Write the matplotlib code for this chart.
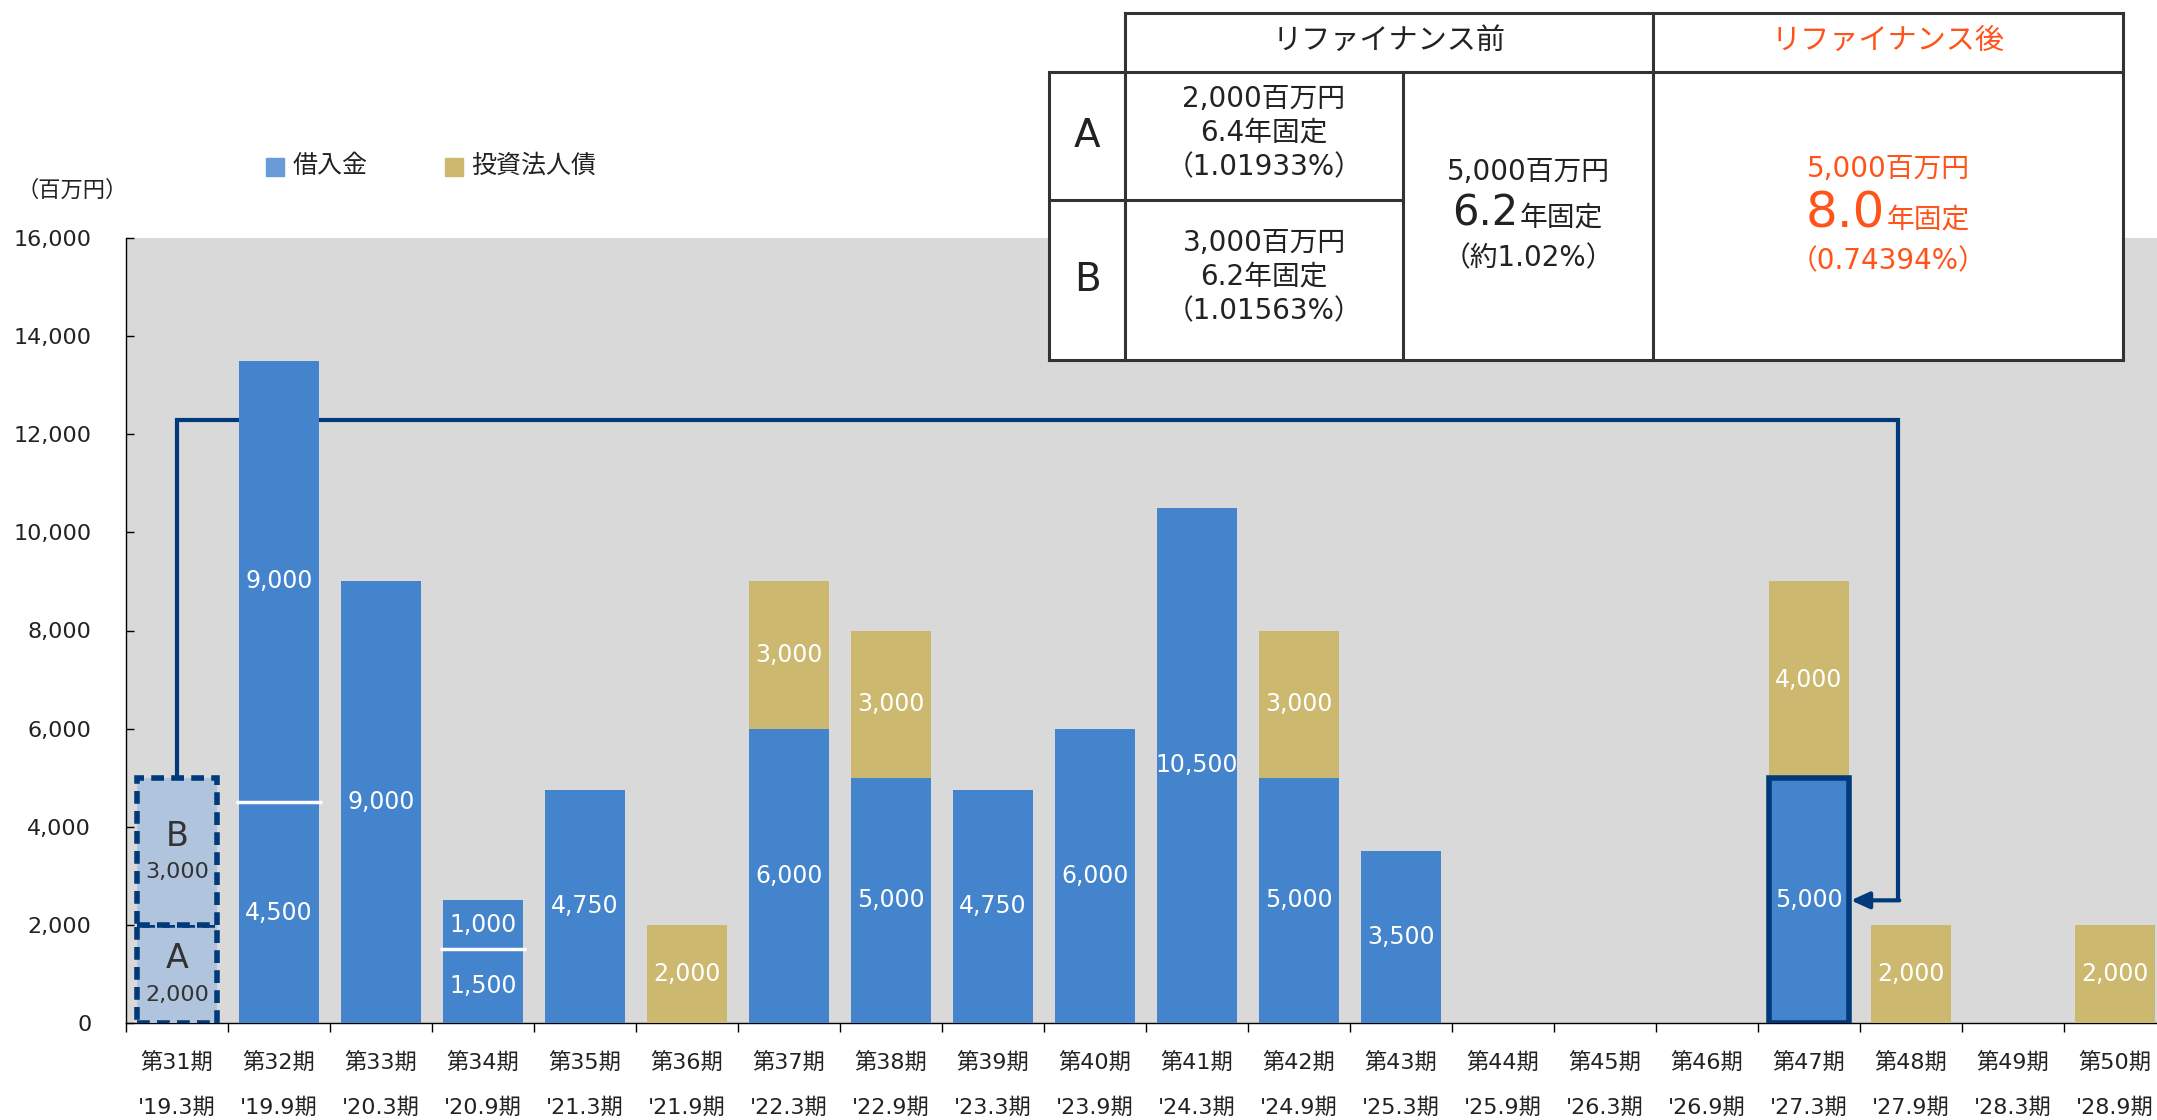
import numpy as np
import matplotlib
matplotlib.use("Agg")
import matplotlib.pyplot as plt
from matplotlib.patches import Rectangle
from matplotlib.offsetbox import TextArea, HPacker, AnnotationBbox
from matplotlib.transforms import blended_transform_factory

plt.rcParams["font.family"] = ["DejaVu Sans", "Noto Sans CJK JP"]

# 決算期ラベル
periods = ["第31期", "第32期", "第33期", "第34期", "第35期", "第36期", "第37期",
           "第38期", "第39期", "第40期", "第41期", "第42期", "第43期", "第44期",
           "第45期", "第46期", "第47期", "第48期", "第49期", "第50期"]
terms = ["'19.3期", "'19.9期", "'20.3期", "'20.9期", "'21.3期", "'21.9期", "'22.3期",
         "'22.9期", "'23.3期", "'23.9期", "'24.3期", "'24.9期", "'25.3期", "'25.9期",
         "'26.3期", "'26.9期", "'27.3期", "'27.9期", "'28.3期", "'28.9期"]

# 返済期限別の残高（百万円）
loans_lower = np.array([0, 4500, 9000, 1500, 4750, 0, 6000, 5000, 4750, 6000,
                        10500, 5000, 3500, 0, 0, 0, 5000, 0, 0, 0])
loans_upper = np.array([0, 9000, 0, 1000, 0, 0, 0, 0, 0, 0,
                        0, 0, 0, 0, 0, 0, 0, 0, 0, 0])
bonds = np.array([0, 0, 0, 0, 0, 2000, 3000, 3000, 0, 0,
                  0, 3000, 0, 0, 0, 0, 4000, 2000, 0, 2000])

# リファイナンス対象（第31期）と新規借入（第47期）
refi_period = 0
refi_names = ["A", "B"]
refi_amounts = [2000, 3000]
new_period = 16

# 表の文言
header_before = "リファイナンス前"
header_after = "リファイナンス後"
rows_before = [["2,000百万円", "6.4年固定", "（1.01933%）"],
               ["3,000百万円", "6.2年固定", "（1.01563%）"]]
total_before = ["5,000百万円", "6.2", "年固定", "（約1.02%）"]
total_after = ["5,000百万円", "8.0", "年固定", "（0.74394%）"]

yticks = [0, 2000, 4000, 6000, 8000, 10000, 12000, 14000, 16000]

BLUE = "#4384CD"
GOLD = "#CDB870"
NAVY = "#003A7A"
REFI_FILL = "#B0C4DE"
ORANGE = "#FF5319"
TEXT = "#222222"
LINE = "#333333"

W, H = 2157, 1120
fig = plt.figure(figsize=(W / 100, H / 100), dpi=100)

ax = fig.add_axes([126 / W, 1 - 1023 / H, 2040 / W, 785 / H])
ax.set_facecolor("#D9D9D9")
x = np.arange(len(periods))
bw = 0.78

ax.bar(x, loans_lower, width=bw, color=BLUE, zorder=3)
ax.bar(x, loans_upper, width=bw, bottom=loans_lower, color=BLUE, zorder=3)
bond_bottom = loans_lower + loans_upper
ax.bar(x, bonds, width=bw, bottom=bond_bottom, color=GOLD, zorder=3)

# 分割返済の境目
for i in x:
    if loans_upper[i] > 0:
        ax.hlines(loans_lower[i], i - 0.42, i + 0.42, color="white", lw=2.5, zorder=4)

# 棒内の数値
for vals, bottoms in [(loans_lower, np.zeros(len(x))), (loans_upper, loans_lower),
                      (bonds, bond_bottom)]:
    for i in x:
        if vals[i] > 0:
            ax.text(i, bottoms[i] + vals[i] / 2, f"{vals[i]:,}", ha="center", va="center",
                    color="white", fontsize=17, family="DejaVu Sans", zorder=6)

# リファイナンス対象の借入（破線枠）
bottom = 0
for name, amt in zip(refi_names, refi_amounts):
    ax.bar(refi_period, amt, width=bw, bottom=bottom, facecolor=REFI_FILL,
           edgecolor=NAVY, linestyle=(0, (2.3, 1.3)), linewidth=4, zorder=3)
    mid = bottom + amt / 2
    ax.annotate(name, (refi_period, mid), xytext=(0, 11), textcoords="offset points",
                ha="center", va="center", fontsize=24, color=LINE, zorder=6)
    ax.annotate(f"{amt:,}", (refi_period, mid), xytext=(0, -15), textcoords="offset points",
                ha="center", va="center", fontsize=16, color=LINE, zorder=6)
    bottom += amt

# 新規借入の強調枠
ax.bar(new_period, loans_lower[new_period], width=bw, fill=False, edgecolor=NAVY,
       linewidth=4, zorder=5)

# 借換えの矢印
top_level = 12300
x_turn = new_period + 0.87
arrow_y = loans_lower[new_period] / 2
ax.plot([refi_period, refi_period, x_turn, x_turn],
        [sum(refi_amounts), top_level, top_level, arrow_y],
        color=NAVY, lw=3, zorder=2, solid_joinstyle="miter", solid_capstyle="butt")
ax.annotate("", xy=(new_period + bw / 2 + 0.02, arrow_y), xytext=(x_turn + 0.015, arrow_y),
            arrowprops=dict(arrowstyle="-|>,head_length=0.55,head_width=0.25", color=NAVY,
                            lw=3, mutation_scale=20, shrinkA=0, shrinkB=0),
            zorder=2)

ax.set_xlim(-0.5, len(x) - 0.5)
ax.set_ylim(0, 16000)
ax.set_xticks(np.arange(-0.5, len(x), 1))
ax.tick_params(axis="x", direction="out", length=6.5, width=1, labelbottom=False)
ax.set_yticks(yticks)
ax.set_yticklabels([f"{v:,}" for v in yticks])
ax.tick_params(axis="y", direction="in", length=5.5, width=1, pad=25,
               labelsize=16, labelcolor=TEXT)
for side in ["top", "right"]:
    ax.spines[side].set_visible(False)
for side in ["left", "bottom"]:
    ax.spines[side].set_linewidth(1)

# 期のラベル（2段）
trans = blended_transform_factory(ax.transData, ax.transAxes)
for i in x:
    ax.text(i, (1023 - 1062) / 785, periods[i], transform=trans, ha="center",
            va="center", fontsize=16, color=TEXT)
    ax.text(i, (1023 - 1108) / 785, terms[i], transform=trans, ha="center",
            va="center", fontsize=16, color=TEXT)

# 凡例・単位・表は画素座標のオーバーレイに描く
ov = fig.add_axes([0, 0, 1, 1], zorder=10)
ov.set_xlim(0, W)
ov.set_ylim(H, 0)
ov.axis("off")

ov.add_patch(Rectangle((266, 158), 18, 18, color="#6A9BD8"))
ov.text(293, 166, "借入金", va="center", fontsize=18, color=TEXT)
ov.add_patch(Rectangle((445, 158), 18, 18, color=GOLD))
ov.text(471, 166, "投資法人債", va="center", fontsize=18, color=TEXT)
ov.text(72, 190, "（百万円）", ha="center", va="center", fontsize=16, color=TEXT)

TL, C1, C2, C3, R = 1049, 1125, 1403, 1653, 2123
T0, T1, TM, B = 13, 72, 200, 360
ov.add_patch(Rectangle((C1, T0), R - C1, T1 - T0, fc="white", ec="none"))
ov.add_patch(Rectangle((TL, T1), R - TL, B - T1, fc="white", ec="none"))
segments = [((C1, R), (T0, T0)), ((TL, R), (T1, T1)), ((TL, R), (B, B)),
            ((TL, C2), (TM, TM)), ((TL, TL), (T1, B)), ((C1, C1), (T0, B)),
            ((C2, C2), (T1, B)), ((C3, C3), (T0, B)), ((R, R), (T0, B))]
for xs, ys in segments:
    ov.plot(xs, ys, color=LINE, lw=2.2, solid_capstyle="projecting")

ov.text((C1 + C3) / 2, (T0 + T1) / 2 - 2, header_before, ha="center", va="center",
        fontsize=21, color=TEXT)
ov.text((C3 + R) / 2, (T0 + T1) / 2 - 2, header_after, ha="center", va="center",
        fontsize=21, color=ORANGE)

for name, lines, (top, bot) in zip(refi_names, rows_before, [(T1, TM), (TM, B)]):
    cy = (top + bot) / 2
    ov.text((TL + C1) / 2, cy, name, ha="center", va="center", fontsize=28, color=TEXT)
    for k, s in enumerate(lines):
        ov.text((C1 + C2) / 2, cy - 3 + (k - 1) * 34, s, ha="center", va="center",
                fontsize=20, color=TEXT)


def total_cell(cx, lines, color, big, gap):
    cy = (T1 + B) / 2
    ov.text(cx, cy - gap, lines[0], ha="center", va="center", fontsize=20, color=color)
    pack = HPacker(children=[TextArea(lines[1], textprops=dict(fontsize=big, color=color)),
                             TextArea(lines[2], textprops=dict(fontsize=20, color=color))],
                   align="baseline", pad=0, sep=1)
    ov.add_artist(AnnotationBbox(pack, (cx, cy - 2), xycoords="data", frameon=False,
                                 box_alignment=(0.5, 0.5)))
    ov.text(cx, cy + gap - 2, lines[3], ha="center", va="center", fontsize=20, color=color)


total_cell((C2 + C3) / 2, total_before, TEXT, 30, 44)
total_cell((C3 + R) / 2, total_after, ORANGE, 36, 47)

fig.savefig("out.png", dpi=100)
